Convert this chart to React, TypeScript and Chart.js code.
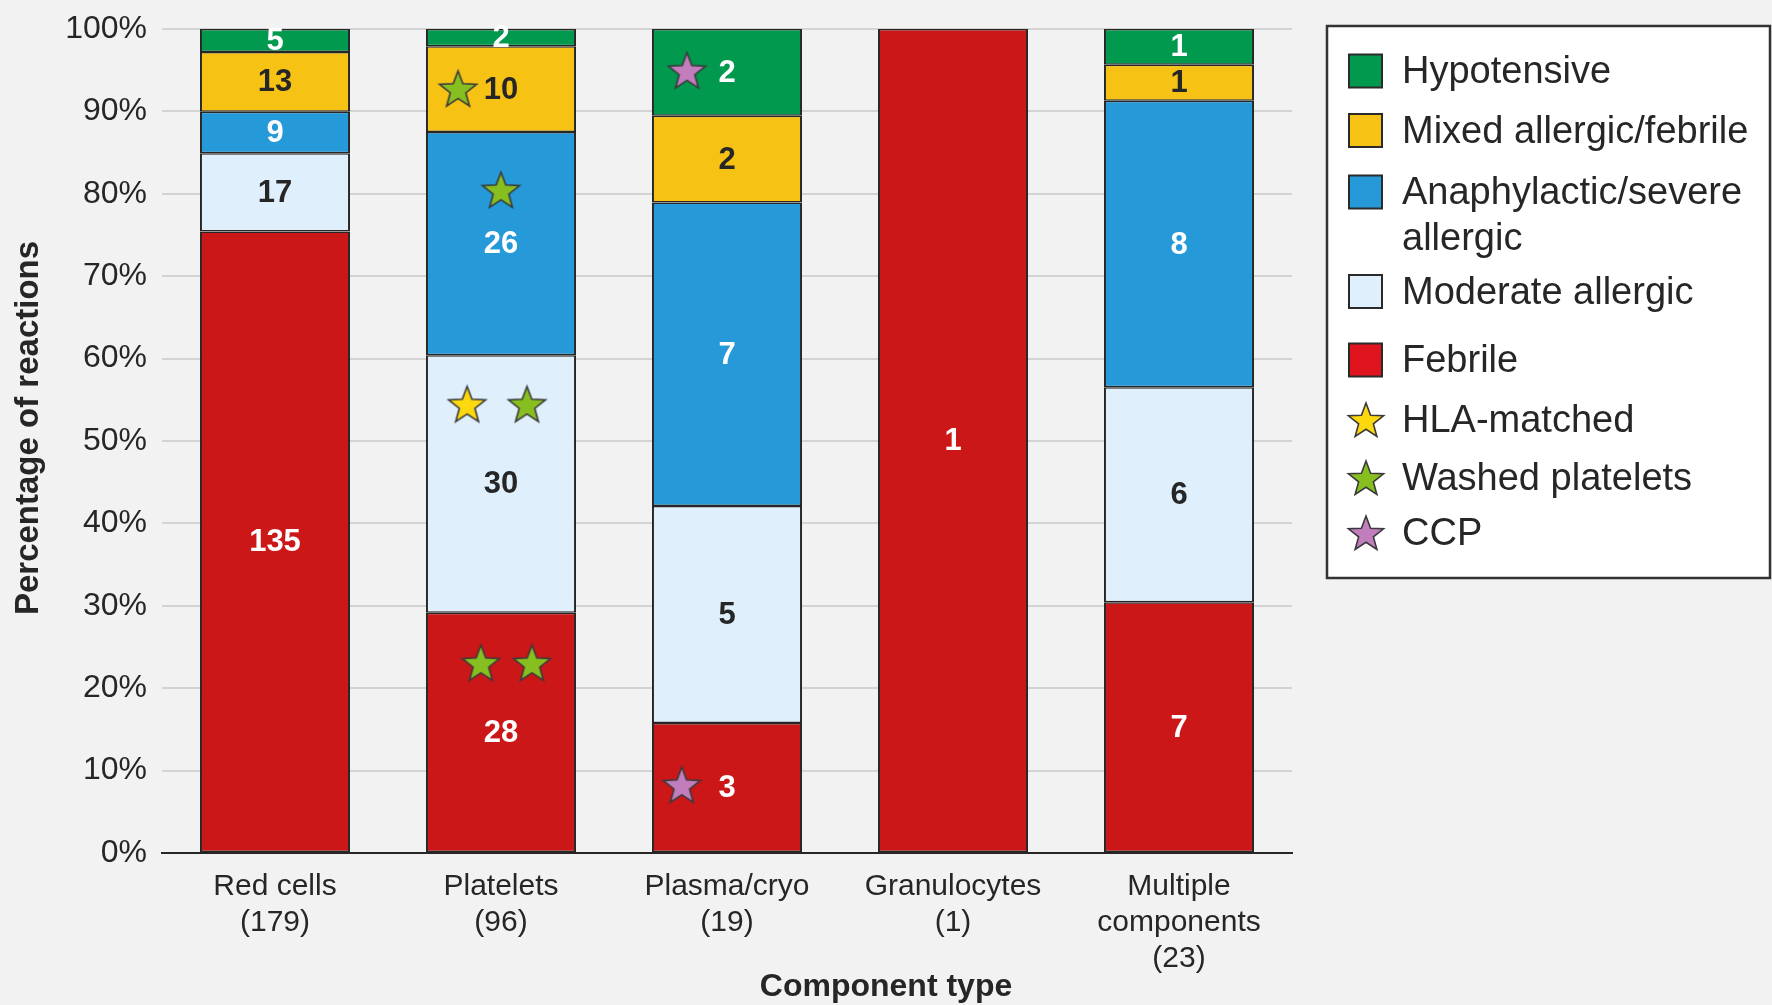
import React, { useEffect, useRef } from 'react';
import { Chart, registerables } from 'chart.js';

Chart.register(...registerables);

// ---------- data ----------
const categoryNames = [['Red cells'], ['Platelets'], ['Plasma/cryo'], ['Granulocytes'], ['Multiple', 'components']];

const febrile = [135, 28, 3, 1, 7];
const moderateAllergic = [17, 30, 5, 0, 6];
const anaphylacticSevere = [9, 26, 7, 0, 8];
const mixedAllergicFebrile = [13, 10, 2, 0, 1];
const hypotensive = [5, 2, 2, 0, 1];

// star markers: x = category position (index, fractional within the bar), y = percent of reactions
const hlaMatchedStars = [{ x: 0.85, y: 54.5 }];
const washedPlateletStars = [
  { x: 0.81, y: 92.8 },
  { x: 1.0, y: 80.5 },
  { x: 1.115, y: 54.5 },
  { x: 0.911, y: 23.1 },
  { x: 1.137, y: 23.1 },
];
const ccpStars = [
  { x: 1.823, y: 95.0 },
  { x: 1.8, y: 8.3 },
];

const yTickValues = [0, 10, 20, 30, 40, 50, 60, 70, 80, 90, 100];

// ---------- styles ----------
const FONT = "'Liberation Sans', Arial, Helvetica, sans-serif";
const TEXT_DARK = '#262626';
const BORDER = '#262626';

const series = [
  { label: 'Febrile', legend: ['Febrile'], counts: febrile, color: '#cc1719', legendColor: '#e0141e', text: '#ffffff' },
  { label: 'Moderate allergic', legend: ['Moderate allergic'], counts: moderateAllergic, color: '#dff0fc', legendColor: '#dff0fc', text: TEXT_DARK },
  { label: 'Anaphylactic/severe allergic', legend: ['Anaphylactic/severe', 'allergic'], counts: anaphylacticSevere, color: '#2699d8', legendColor: '#2699d8', text: '#ffffff' },
  { label: 'Mixed allergic/febrile', legend: ['Mixed allergic/febrile'], counts: mixedAllergicFebrile, color: '#f6c315', legendColor: '#f6c315', text: TEXT_DARK },
  { label: 'Hypotensive', legend: ['Hypotensive'], counts: hypotensive, color: '#00994d', legendColor: '#00994d', text: '#ffffff' },
];

const starSeries = [
  { label: 'HLA-matched', points: hlaMatchedStars, color: '#fcd80f' },
  { label: 'Washed platelets', points: washedPlateletStars, color: '#88bf20' },
  { label: 'CCP', points: ccpStars, color: '#c27dbd' },
];

const totals = categoryNames.map((_, i) => series.reduce((s, d) => s + d.counts[i], 0));
const xLabels = categoryNames.map((lines, i) => [...lines, `(${totals[i]})`]);

function drawStar(ctx: CanvasRenderingContext2D, cx: number, cy: number, R: number, fill: string) {
  const r = R * 0.42;
  ctx.beginPath();
  for (let k = 0; k < 10; k++) {
    const rad = k % 2 === 0 ? R : r;
    const a = -Math.PI / 2 + (k * Math.PI) / 5;
    const px = cx + rad * Math.cos(a);
    const py = cy + rad * Math.sin(a);
    if (k === 0) ctx.moveTo(px, py);
    else ctx.lineTo(px, py);
  }
  ctx.closePath();
  ctx.fillStyle = fill;
  ctx.fill();
  ctx.lineWidth = 1.6;
  ctx.strokeStyle = '#3a3a3a';
  ctx.lineJoin = 'miter';
  ctx.stroke();
}

function makeStarImage(fill: string, R: number) {
  const c = document.createElement('canvas');
  const s = Math.ceil(2 * R + 6);
  c.width = s;
  c.height = s;
  const ctx = c.getContext('2d')!;
  drawStar(ctx, s / 2, s / 2 + R * 0.1, R, fill);
  return c;
}

const decorPlugin = {
  id: 'decor',
  beforeDraw(chart: any) {
    const { ctx, width, height } = chart;
    ctx.save();
    ctx.fillStyle = '#f2f2f2';
    ctx.fillRect(0, 0, width, height);
    ctx.restore();
  },
  afterDatasetsDraw(chart: any) {
    const { ctx } = chart;
    ctx.save();
    ctx.font = `bold 31px ${FONT}`;
    ctx.textAlign = 'center';
    ctx.textBaseline = 'middle';
    chart.data.datasets.forEach((ds: any, di: number) => {
      if (!ds.counts) return;
      const meta = chart.getDatasetMeta(di);
      meta.data.forEach((el: any, i: number) => {
        const c = ds.counts[i];
        if (!c) return;
        const { x, y, base } = el.getProps(['x', 'y', 'base'], true);
        ctx.fillStyle = ds.labelColor;
        ctx.fillText(String(c), x, (y + base) / 2 + 1);
      });
    });
    ctx.restore();
  },
  afterDraw(chart: any) {
    const { ctx } = chart;
    ctx.save();
    // axis titles
    ctx.fillStyle = TEXT_DARK;
    ctx.font = `bold 32px ${FONT}`;
    ctx.textAlign = 'center';
    ctx.textBaseline = 'middle';
    ctx.fillText('Component type', chart.width / 2, 987);
    ctx.save();
    ctx.translate(29, 428);
    ctx.rotate(-Math.PI / 2);
    ctx.font = `bold 33px ${FONT}`;
    ctx.fillText('Percentage of reactions', 0, 0);
    ctx.restore();

    // legend
    const bx = 1327, by = 26, bw = 443, bh = 552;
    ctx.fillStyle = '#ffffff';
    ctx.fillRect(bx, by, bw, bh);
    ctx.lineWidth = 2.5;
    ctx.strokeStyle = '#333333';
    ctx.strokeRect(bx, by, bw, bh);

    const rowY = [71, 130.5, 192, 291.5, 360];
    const legendSeries = [...series].reverse();
    ctx.font = `38px ${FONT}`;
    ctx.textAlign = 'left';
    ctx.textBaseline = 'middle';
    legendSeries.forEach((s, i) => {
      const cy = rowY[i];
      ctx.fillStyle = s.legendColor;
      ctx.fillRect(1349, cy - 16.5, 33, 33);
      ctx.lineWidth = 2;
      ctx.strokeStyle = '#2a2a2a';
      ctx.strokeRect(1349, cy - 16.5, 33, 33);
      ctx.fillStyle = TEXT_DARK;
      s.legend.forEach((line, li) => {
        ctx.fillText(line, 1402, cy + 2 + li * 46);
      });
    });
    const starRowY = [420, 478, 533];
    starSeries.forEach((s, i) => {
      const cy = starRowY[i];
      drawStar(ctx, 1366, cy + 1.5, 18.5, s.color);
      ctx.fillStyle = TEXT_DARK;
      ctx.fillText(s.label, 1402, cy + 2);
    });
    ctx.restore();
  },
};

export default function App() {
  const ref = useRef<HTMLCanvasElement>(null);

  useEffect(() => {
    const canvas = ref.current;
    if (!canvas) return;

    const barDatasets = series.map((s) => ({
      type: 'bar' as const,
      label: s.label,
      data: s.counts.map((c, i) => (c ? (c / totals[i]) * 100 : null)),
      counts: s.counts,
      labelColor: s.text,
      backgroundColor: s.color,
      borderColor: BORDER,
      borderWidth: { top: 1.5, bottom: 1.5, left: 2, right: 2 },
      borderSkipped: false,
      inflateAmount: 0,
      grouped: false,
      barPercentage: 1,
      categoryPercentage: 0.664,
      order: 1,
      xAxisID: 'x',
      yAxisID: 'y',
    }));

    const starDatasets = starSeries.map((s) => ({
      type: 'scatter' as const,
      label: s.label,
      data: s.points,
      pointStyle: makeStarImage(s.color, 19.5),
      pointRadius: 20,
      pointHoverRadius: 20,
      order: -1,
      xAxisID: 'xs',
      yAxisID: 'ys',
    }));

    const chart = new Chart(canvas, {
      type: 'bar',
      data: {
        labels: xLabels,
        datasets: [...barDatasets, ...starDatasets] as any,
      },
      options: {
        animation: false,
        responsive: false,
        devicePixelRatio: 1,
        events: [],
        layout: { padding: { left: 0, right: 480, top: 29, bottom: 0 } },
        plugins: {
          legend: { display: false },
          tooltip: { enabled: false },
          title: { display: false },
        },
        scales: {
          x: {
            type: 'category',
            stacked: true,
            offset: true,
            grid: { display: false, drawTicks: false },
            border: { display: true, color: BORDER, width: 2 },
            ticks: {
              color: TEXT_DARK,
              font: { family: FONT, size: 30, lineHeight: 1.2 },
              padding: 16,
              maxRotation: 0,
              autoSkip: false,
            },
            afterFit: (s: any) => {
              s.height = 152;
              s.paddingLeft = 0;
              s.paddingRight = 0;
            },
          },
          y: {
            type: 'linear',
            stacked: true,
            min: 0,
            max: 100,
            afterBuildTicks: (s: any) => {
              s.ticks = yTickValues.map((v) => ({ value: v }));
            },
            ticks: {
              color: TEXT_DARK,
              font: { family: FONT, size: 32 },
              padding: 15,
              callback: (v: any) => `${v}%`,
            },
            grid: { color: '#d3d3d3', lineWidth: 2, drawTicks: false },
            border: { display: false },
            afterFit: (s: any) => {
              s.width = 162;
              s.paddingTop = 0;
              s.paddingBottom = 0;
            },
          },
          xs: { type: 'linear', min: -0.5, max: 4.5, offset: false, display: false },
          ys: { type: 'linear', min: 0, max: 100, offset: false, display: false },
        },
      } as any,
      plugins: [decorPlugin],
    });

    return () => chart.destroy();
  }, []);

  return (
    <div style={{ position: 'absolute', left: 0, top: 0, width: 1772, height: 1005 }}>
      <canvas ref={ref} width={1772} height={1005} style={{ display: 'block', width: 1772, height: 1005 }} />
    </div>
  );
}
